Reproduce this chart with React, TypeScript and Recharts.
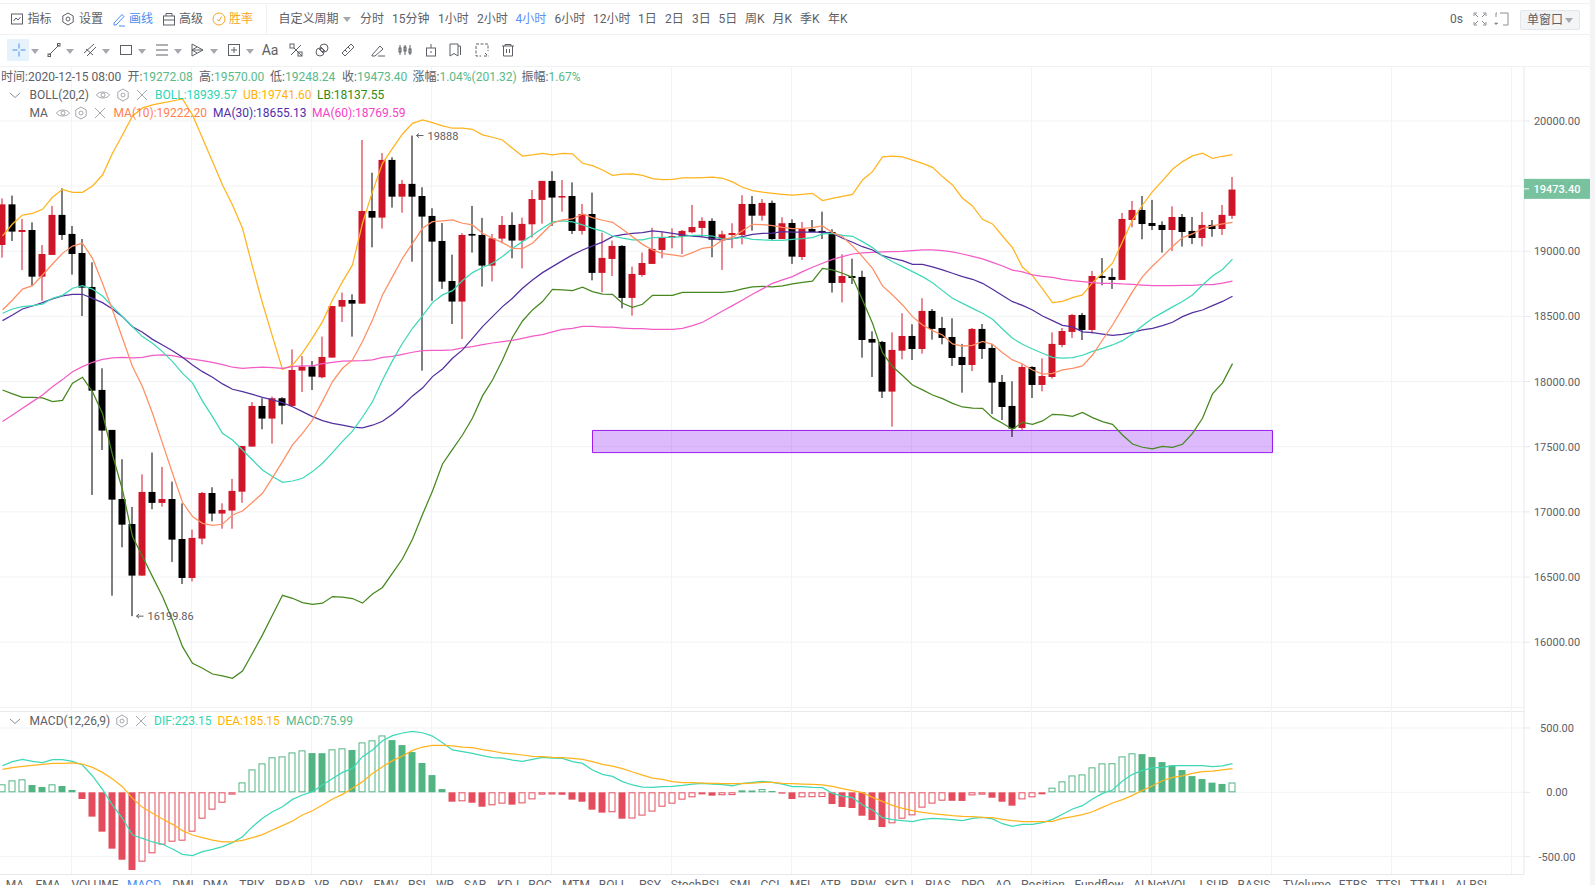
import React from 'react';
import { ComposedChart, Bar, Line, XAxis, YAxis, CartesianGrid, ReferenceArea, ReferenceDot } from 'recharts';

const open = [
  19048,19360,19148,19163,18805,18972,19279,19133,18987,18726,
  17936,17629,17099,16907,16511,17153,17069,17099,16792,16493,
  16795,17145,16987,17010,17155,17501,17813,17716,17872,17813,
  18084,18115,18033,18184,18575,18626,18598,19309,19258,19701,
  19419,19517,19424,19271,19079,18772,18614,19133,19125,18890,
  19097,19202,19082,19207,19394,19540,19412,19424,19156,19286,
  18834,18941,19041,18642,18818,18903,19010,19102,19112,19146,
  19179,19233,19084,19125,19125,19363,19273,19371,19094,19217,
  18956,19171,19156,19148,18757,18810,18803,18327,18304,17923,
  18237,18350,18250,18542,18411,18342,18189,18127,18404,18258,
  17997,17813,17644,18112,17974,18035,18281,18381,18511,18396,
  18810,18803,18780,19240,19317,19217,19202,19163,19263,19156,
  19102,19202,19171,19272,
];
const close = [
  19360,19151,19163,18805,18979,19279,19125,18979,18721,17930,
  17624,17094,16902,16511,17153,17069,17099,16787,16493,16800,
  17145,16987,17015,17161,17506,17813,17716,17872,17815,18089,
  18115,18038,18189,18580,18626,18598,19309,19258,19701,19419,
  19517,19419,19266,19074,18767,18614,19125,19120,18890,19100,
  19202,19082,19210,19401,19540,19412,19424,19156,19286,18834,
  18949,19041,18642,18826,18910,19018,19102,19117,19156,19186,
  19233,19089,19130,19140,19363,19273,19371,19094,19215,18959,
  19176,19148,19140,18757,18810,18795,18319,18299,17923,18243,
  18350,18250,18542,18404,18335,18181,18127,18404,18250,17992,
  17805,17639,18112,17974,18043,18289,18388,18511,18396,18810,
  18795,18780,19248,19317,19209,19194,19163,19263,19148,19102,
  19202,19171,19279,19473.4,
];
const high = [
  19406,19427,19248,19222,19048,19348,19483,19194,19094,18915,
  18102,17629,17404,17038,17288,17455,17345,17232,17066,16864,
  17153,17189,17066,17253,17506,17843,17872,17885,17880,18247,
  18196,18158,18345,18580,18683,18670,19854,19603,19754,19721,
  19547,19888,19491,19330,19217,18974,19138,19348,19256,19133,
  19271,19299,19258,19470,19540,19614,19547,19529,19363,19450,
  19143,19082,19046,18882,18990,19181,19151,19176,19164,19355,
  19261,19253,19158,19215,19430,19424,19401,19389,19261,19245,
  19225,19240,19304,19169,18977,18943,18851,18386,18312,18378,
  18524,18440,18639,18557,18496,18486,18289,18411,18442,18289,
  18051,18002,18133,18117,18178,18378,18411,18519,18527,18849,
  18948,18869,19294,19386,19424,19394,19230,19345,19286,19263,
  19301,19240,19355,19570,
];
const low = [
  18951,19079,18856,18736,18621,18972,19087,18821,18503,17130,
  17475,16357,16728,16199.86,16511,17020,17040,16616,16447,16467,
  16751,16928,16871,16871,17069,17501,17634,17524,17672,17813,
  17920,17935,18025,18184,18457,18345,18598,19030,19174,19335,
  19296,18920,18084,18619,18711,18442,18327,18990,18729,18769,
  19061,18946,18869,19105,19212,19194,19304,19133,19128,18777,
  18685,18810,18562,18506,18805,18903,18946,19023,18979,19138,
  19107,18954,18857,19023,19053,19158,19235,19087,19094,18903,
  18933,19148,19094,18683,18608,18749,18184,18035,17874,17654,
  18171,18166,18214,18322,18286,18120,17915,18081,18174,17751,
  17705,17575,17629,17874,17925,18023,18263,18335,18319,18370,
  18739,18711,18780,19184,19092,19163,18990,19002,19036,19056,
  19038,19112,19125,19248,
];

const ub = [
  19118,19209,19278,19291,19322,19414,19475,19452,19452,19501,
  19585,19752,19892,20038,20100,20123,20138,20153,20169,20046,
  19867,19688,19509,19355,19176,18882,18601,18345,18094,18127,
  18220,18335,18460,18626,18767,18895,19215,19458,19675,19790,
  19900,19982,20008,19987,19962,19944,19944,19936,19893,19875,
  19854,19790,19731,19739,19752,19739,19752,19747,19675,19657,
  19624,19583,19591,19593,19583,19557,19550,19552,19563,19563,
  19565,19568,19560,19532,19491,19465,19453,19445,19437,19430,
  19437,19445,19389,19406,19422,19437,19547,19611,19724,19731,
  19725,19700,19675,19644,19573,19509,19407,19348,19245,19210,
  19117,19028,18877,18813,18711,18606,18616,18644,18665,18759,
  18831,18908,19074,19240,19355,19458,19542,19629,19688,19732,
  19752,19713,19729,19742,
];
const boll = [
  18524,18557,18575,18583,18595,18639,18662,18716,18736,18710,
  18657,18575,18498,18421,18345,18294,18230,18153,18063,17990,
  17850,17731,17603,17552,17475,17398,17322,17271,17227,17237,
  17258,17309,17373,17455,17541,17619,17728,17845,18012,18161,
  18294,18409,18504,18606,18665,18698,18775,18836,18875,18908,
  18959,19023,19074,19125,19176,19225,19233,19225,19202,19176,
  19155,19117,19100,19087,19087,19105,19107,19107,19112,19122,
  19122,19117,19094,19097,19107,19092,19087,19084,19084,19092,
  19097,19105,19133,19138,19122,19115,19074,19028,18964,18920,
  18882,18844,18805,18759,18698,18639,18600,18562,18524,18478,
  18404,18332,18286,18250,18217,18186,18179,18184,18202,18232,
  18255,18281,18314,18365,18429,18486,18529,18573,18614,18665,
  18741,18810,18860,18940,
];
const lb = [
  17935,17905,17879,17879,17874,17846,17856,17987,18033,17922,
  17756,17437,17168,16810,16657,16503,16350,16171,15966,15838,
  15800,15756,15741,15723,15779,15915,16056,16209,16360,16337,
  16304,16291,16299,16350,16345,16335,16300,16370,16420,16530,
  16640,16790,16980,17160,17368,17480,17590,17720,17890,18012,
  18166,18340,18465,18550,18614,18708,18703,18698,18724,18690,
  18672,18670,18601,18570,18593,18662,18662,18662,18685,18685,
  18685,18685,18685,18693,18711,18726,18731,18726,18734,18749,
  18762,18770,18869,18857,18831,18800,18626,18447,18222,18115,
  18046,17974,17936,17897,17869,17833,17805,17797,17795,17723,
  17680,17634,17687,17672,17698,17749,17744,17733,17764,17723,
  17693,17672,17590,17521,17496,17483,17503,17496,17519,17603,
  17718,17905,17990,18138,
];
const ma10 = [
  18549,18626,18710,18736,18818,18902,18984,19040,19061,18946,
  18754,18549,18332,18115,17960,17757,17526,17296,17074,16964,
  16912,16897,16905,16976,17007,17074,17143,17263,17386,17514,
  17603,17705,17850,18000,18102,18166,18307,18473,18665,18805,
  18946,19061,19176,19227,19233,19240,19215,19202,19138,19100,
  19066,19023,19020,19061,19138,19215,19240,19248,19286,19258,
  19238,19222,19169,19112,19053,19010,18982,18972,18961,18990,
  19023,19033,19087,19107,19158,19207,19204,19197,19184,19174,
  19176,19181,19194,19143,19112,19041,18959,18869,18734,18665,
  18588,18498,18434,18391,18358,18289,18273,18278,18309,18286,
  18222,18166,18135,18089,18058,18063,18089,18102,18120,18204,
  18319,18434,18562,18690,18805,18887,18959,19036,19105,19133,
  19176,19195,19210,19222,
];
const ma30 = [
  18468,18511,18557,18580,18606,18634,18657,18670,18670,18639,
  18606,18557,18498,18421,18378,18324,18281,18237,18186,18127,
  18076,18033,17982,17941,17923,17902,17879,17859,17838,17807,
  17769,17731,17700,17680,17665,17650,17645,17665,17695,17750,
  17815,17890,17950,18038,18097,18179,18243,18332,18422,18498,
  18575,18639,18716,18780,18836,18882,18928,18972,19010,19041,
  19070,19112,19128,19138,19143,19156,19148,19138,19125,19117,
  19110,19097,19087,19097,19112,19130,19138,19140,19151,19146,
  19146,19146,19146,19138,19100,19069,19035,19010,18966,18946,
  18928,18900,18900,18880,18857,18831,18805,18785,18754,18708,
  18660,18613,18585,18549,18503,18468,18432,18419,18381,18376,
  18365,18355,18363,18378,18396,18409,18429,18455,18498,18529,
  18549,18583,18615,18655,
];
const ma60 = [
  17693,17744,17795,17846,17897,17961,18015,18076,18115,18148,
  18171,18181,18186,18181,18186,18201,18204,18199,18184,18173,
  18160,18148,18130,18110,18102,18107,18110,18107,18102,18115,
  18120,18120,18138,18148,18156,18158,18161,18166,18186,18194,
  18209,18225,18238,18240,18240,18243,18258,18268,18284,18296,
  18307,18317,18332,18348,18360,18381,18401,18409,18424,18424,
  18417,18417,18411,18406,18406,18401,18401,18401,18409,18429,
  18455,18498,18542,18583,18626,18670,18711,18754,18780,18805,
  18844,18877,18908,18938,18959,18979,18987,18992,18995,18997,
  19000,19005,19010,19010,19005,18995,18979,18961,18941,18915,
  18887,18856,18841,18818,18808,18800,18785,18775,18767,18759,
  18754,18754,18749,18746,18741,18736,18736,18736,18739,18739,
  18744,18744,18755,18770,
];

const macd = [
  62,93,101,57,41,62,49,18,-52,-189,
  -306,-438,-524,-604,-539,-474,-407,-384,-376,-306,
  -205,-135,-81,-18,77,178,225,272,279,310,
  326,305,304,334,342,329,388,404,442,406,
  367,313,228,134,25,-73,-70,-81,-112,-101,
  -88,-96,-86,-55,-18,-17,-19,-57,-73,-135,
  -158,-155,-205,-204,-181,-150,-112,-88,-57,-39,
  -16,-26,-23,-22,15,14,25,10,-10,-52,
  -39,-38,-37,-91,-114,-122,-182,-215,-270,-241,
  -205,-179,-119,-88,-65,-66,-67,-24,-18,-42,
  -73,-104,-55,-39,-10,36,85,131,139,194,
  225,226,279,303,297,274,235,209,173,126,
  103,75,65,76,
];
const dif = [
  207,238,256,241,230,254,254,241,212,127,
  23,-99,-202,-332,-358,-386,-404,-441,-482,-492,
  -461,-443,-422,-391,-345,-267,-202,-151,-112,-55,
  -21,5,57,108,155,186,277,329,401,440,
  461,474,463,437,386,329,316,303,285,269,
  266,251,241,256,272,266,264,238,225,173,
  140,124,83,57,41,39,44,46,54,64,
  70,64,59,51,70,77,85,77,64,44,
  44,39,36,-8,-29,-42,-99,-138,-197,-213,
  -220,-228,-210,-202,-207,-213,-220,-202,-195,-207,
  -244,-264,-249,-249,-236,-210,-171,-130,-104,-52,
  -8,18,88,140,171,189,194,207,207,207,
  207,199,205,223,
];
const dea = [
  178,191,202,210,217,225,225,228,220,194,
  155,103,44,-47,-117,-163,-207,-249,-298,-332,
  -353,-371,-386,-386,-373,-353,-329,-293,-259,-223,
  -176,-143,-99,-52,-16,31,83,147,199,246,
  282,326,352,365,365,360,352,347,331,321,
  305,298,290,279,277,272,269,264,256,238,
  217,204,184,158,134,111,101,83,75,75,
  72,70,67,67,67,72,77,77,70,67,
  64,62,57,46,28,13,-3,-39,-70,-101,
  -125,-143,-156,-166,-174,-182,-187,-189,-195,-197,
  -210,-220,-228,-228,-228,-226,-202,-189,-174,-151,
  -117,-83,-57,-24,15,51,90,116,127,147,
  160,165,175,185,
];

const priceTicks = [20000, 19000, 18500, 18000, 17500, 17000, 16500, 16000, 19500, 19473.4];
const priceGrid = [20000, 19500, 19000, 18500, 18000, 17500, 17000, 16500, 16000, 15500];
const macdTicks = [500, 0, -500];
const timeGrid = [6.9, 18.9, 30.9, 42.9, 54.9, 66.9, 78.9, 90.9, 102.9, 114.9, 126.9, 138.9, 150.9];
const lastPrice = 19473.4;

const periods = [
  ['分时', 360], ['15分钟', 392], ['1小时', 438], ['2小时', 477], ['4小时', 515.5], ['6小时', 554.5], ['12小时', 593],
  ['1日', 638], ['2日', 665], ['3日', 692], ['5日', 718.5], ['周K', 745], ['月K', 772.5], ['季K', 800], ['年K', 828],
];
const indicators = [
  ['MA', 15], ['EMA', 48], ['VOLUME', 95], ['MACD', 144], ['DMI', 183], ['DMA', 216], ['TRIX', 252], ['BRAR', 290],
  ['VR', 322], ['OBV', 351], ['EMV', 386], ['RSI', 417], ['WR', 445], ['SAR', 475], ['KDJ', 508], ['ROC', 540],
  ['MTM', 576], ['BOLL', 613], ['PSY', 650], ['StochRSI', 695], ['SMI', 740], ['CCI', 770], ['MFI', 800], ['ATR', 830],
  ['BBW', 863], ['SKDJ', 899], ['BIAS', 938], ['DPO', 973], ['AO', 1003], ['Position', 1043], ['Fundflow', 1099],
  ['ALNetVOL', 1161], ['LSUR', 1214], ['BASIS', 1254], ['TVolume', 1307], ['FTBS', 1353], ['TTSL', 1390], ['TTMLL', 1429], ['ALRSI', 1471],
];

const priceData = open.map((o, i) => ({
  i, open: o, close: close[i], range: [low[i], high[i]],
  ub: ub[i], boll: boll[i], lb: lb[i], ma10: ma10[i], ma30: ma30[i], ma60: ma60[i],
}));
const macdData = macd.map((m, i) => ({
  i, macd: m, dif: dif[i], dea: dea[i], hollow: i === 0 || m > macd[i - 1],
}));

const FONT = "Roboto, 'Noto Sans CJK SC', sans-serif";
const GRAY = '#5d6066';
const GRID = '#f2f3f6';
const AXIS = '#e6e8ec';
const UP = '#cf1628';
const DOWN = '#000000';
const HIST_UP = '#53b483';
const HIST_DOWN = '#e44c5d';
const C_BOLL = '#3ed8b6';
const C_UB = '#ffb41f';
const C_LB = '#46881f';
const C_MA10 = '#ff8e63';
const C_MA30 = '#53309f';
const C_MA60 = '#f25cc6';
const LINE_W = 1.25;

const xDomain = [-0.25, 152.15];

const Candle = (props: any) => {
  const { x, y, width, height, payload } = props;
  const cx = x + width / 2;
  const k = height / (payload.range[1] - payload.range[0]);
  const top = y + (payload.range[1] - Math.max(payload.open, payload.close)) * k;
  const bot = y + (payload.range[1] - Math.min(payload.open, payload.close)) * k;
  const color = payload.close >= payload.open ? UP : DOWN;
  return (
    <g>
      <rect x={cx - 0.5} y={y} width={1} height={height} fill={color} />
      <rect x={cx - 3.5} y={top} width={7} height={Math.max(bot - top, 1)} fill={color} />
    </g>
  );
};

const HistBar = (props: any) => {
  const { x, y, width, height, payload } = props;
  const cx = x + width / 2;
  const top = Math.min(y, y + height);
  const h = Math.abs(height);
  const color = payload.macd >= 0 ? HIST_UP : HIST_DOWN;
  if (payload.hollow) {
    return <rect x={cx - 3} y={top + 0.5} width={6} height={Math.max(h - 1, 1)} fill="#fff" stroke={color} strokeWidth={1} />;
  }
  return <rect x={cx - 3.5} y={top} width={7} height={h} fill={color} />;
};

const AxisTick = (props: any) => {
  const { x, y, payload } = props;
  if (payload.value === lastPrice) {
    return (
      <g>
        <rect x={x - 10} y={y - 10.7} width={66} height={20} fill="#72c09b" fillOpacity={0.96} />
        <line x1={x - 10} x2={x - 5} y1={y - 0.7} y2={y - 0.7} stroke="#fff" />
        <text x={x + 23} y={y + 3.3} textAnchor="middle" fontSize={11} fontFamily={FONT} fill="#fff" fontWeight={500}>{payload.value.toFixed(2)}</text>
      </g>
    );
  }
  return <text x={x + 23} y={y + 4} textAnchor="middle" fontSize={11} fontFamily={FONT} fill={GRAY}>{payload.value.toFixed(2)}</text>;
};

const ExtremeMark = (label: string) => (props: any) => {
  const { cx, cy } = props;
  return (
    <g>
      <path d={`M${cx + 4} ${cy}H${cx + 11}M${cx + 4} ${cy}l2.5 -2M${cx + 4} ${cy}l2.5 2`} stroke={GRAY} fill="none" />
      <text x={cx + 15} y={cy + 4} fontSize={11} fontFamily={FONT} fill={GRAY}>{label}</text>
    </g>
  );
};

const Txt = ({ x, y, color = GRAY, size = 12, center, children }: any) => (
  <span style={{
    position: 'absolute', left: x, top: y - 9, height: 18, lineHeight: '18px', fontSize: size, color,
    fontFamily: FONT, whiteSpace: 'nowrap', transform: center ? 'translateX(-50%)' : undefined,
  }}>{children}</span>
);

const Ico = ({ x, y, color = GRAY, size = 16, children }: any) => (
  <svg width={size} height={size} viewBox="0 0 16 16" fill="none" stroke={color} strokeWidth={1}
    style={{ position: 'absolute', left: x - size / 2, top: y - size / 2 }}>{children}</svg>
);

const Caret = ({ x, y, color = '#a5a8ae' }: any) => (
  <svg width={8} height={5} style={{ position: 'absolute', left: x - 4, top: y - 2 }}><path d="M0 0H8L4 5Z" fill={color} /></svg>
);

const Eye = ({ x, y }: any) => (
  <Ico x={x} y={y} color="#a5a8ae"><path d="M1.5 8C4 4 12 4 14.5 8C12 12 4 12 1.5 8Z" /><circle cx="8" cy="8" r="2" /></Ico>
);
const Gear = ({ x, y, color = '#a5a8ae' }: any) => (
  <Ico x={x} y={y} color={color}><path d="M8 2L13.2 5V11L8 14L2.8 11V5Z" /><circle cx="8" cy="8" r="2" /></Ico>
);
const Cross = ({ x, y }: any) => (
  <Ico x={x} y={y} color="#a5a8ae"><path d="M3 3L13 13M13 3L3 13" /></Ico>
);
const Chevron = ({ x, y }: any) => (
  <Ico x={x} y={y} color="#8b8e94"><path d="M3 6L8 10.5L13 6" /></Ico>
);

const Toolbar = () => (
  <>
    <div style={{ position: 'absolute', left: 0, top: 3, width: 1590, height: 1, background: '#f0f1f3' }} />
    <div style={{ position: 'absolute', left: 0, top: 34, width: 1590, height: 1, background: '#f0f1f3' }} />
    <div style={{ position: 'absolute', left: 0, top: 66, width: 1590, height: 1, background: '#f0f1f3' }} />
    <div style={{ position: 'absolute', left: 266, top: 4, width: 1, height: 30, background: '#f0f1f3' }} />

    <Ico x={17} y={19}><rect x="2.5" y="3" width="11" height="10" /><path d="M4.5 10L7 7L9 9L11.5 6" /></Ico>
    <Txt x={27.5} y={19}>指标</Txt>
    <Gear x={68} y={19} color={GRAY} />
    <Txt x={79} y={19}>设置</Txt>
    <Ico x={119} y={19} color="#4a8cf0"><path d="M3 12L11 3.5L13 5.5L5 14H3ZM8 15H14" /></Ico>
    <Txt x={129} y={19} color="#4a8cf0">画线</Txt>
    <Ico x={169} y={19}><rect x="2.5" y="5" width="11" height="9" /><path d="M5 5V2.5H11V5M2.5 9H13.5" /></Ico>
    <Txt x={179} y={19}>高级</Txt>
    <Ico x={219} y={19} color="#f5a623"><circle cx="8" cy="8" r="6" /><path d="M6 8.5L8 10L10.5 5.5" /></Ico>
    <Txt x={229} y={19} color="#f5a623">胜率</Txt>

    <Txt x={278.5} y={19}>自定义周期</Txt>
    <Caret x={347} y={19} />
    {periods.map(([name, x]: any) => (
      <Txt key={name} x={x} y={19} color={name === '4小时' ? '#5b8ff9' : GRAY}>{name}</Txt>
    ))}

    <Txt x={1450} y={19}>0s</Txt>
    <Ico x={1480} y={19} color="#8b8e94"><path d="M2 5V2H5M11 2H14V5M14 11V14H11M5 14H2V11M3 3L6 6M13 3L10 6M13 13L10 10M3 13L6 10" /></Ico>
    <Ico x={1502} y={19} color="#8b8e94"><path d="M6 2H14V14H9M2 11V14M0.5 12.5H4M2 6V2H3" /></Ico>
    <div style={{ position: 'absolute', left: 1520, top: 10, width: 58, height: 18, background: '#f3f4f6', border: '1px solid #e4e6ea', borderRadius: 2 }} />
    <Txt x={1527} y={20}>单窗口</Txt>
    <Caret x={1569} y={20} />

    <div style={{ position: 'absolute', left: 7, top: 39, width: 22, height: 22, background: '#e6f3fd' }} />
    <Ico x={18.5} y={50} color="#4a8cf0"><path d="M8 1.5V6.5M8 9.5V14.5M1.5 8H6.5M9.5 8H14.5" /></Ico>
    <Caret x={34.5} y={51} />
    <Ico x={54} y={50}><path d="M3 13L13 3" /><rect x="11.5" y="1.5" width="2.5" height="2.5" /><rect x="2" y="12" width="2.5" height="2.5" /></Ico>
    <Caret x={70} y={51} />
    <Ico x={90} y={50}><path d="M2 11L12 2M5 14L14 5M4 7L11 13" /></Ico>
    <Caret x={106} y={51} />
    <Ico x={126} y={50}><rect x="2.5" y="3.5" width="11" height="9" /></Ico>
    <Caret x={142} y={51} />
    <Ico x={162} y={50}><path d="M2 3H14M2 8H14M2 13H14" /></Ico>
    <Caret x={178} y={51} />
    <Ico x={197} y={50}><path d="M3 2V14L14 8ZM3 8L8 5M3 8H14M3 8L8 11" /></Ico>
    <Caret x={213.5} y={51} />
    <Ico x={233.5} y={50}><rect x="2.5" y="2.5" width="11" height="11" /><path d="M5 8H11M8 5V11" /></Ico>
    <Caret x={250} y={51} />
    <Txt x={270} y={50} size={14} center>Aa</Txt>
    <Ico x={296} y={50}><rect x="2" y="2" width="4" height="4" /><path d="M6 6L14 14M3 13L13 3" /><rect x="10" y="10" width="4" height="4" /></Ico>
    <Ico x={322} y={50}><circle cx="6" cy="10" r="4" /><circle cx="10" cy="6" r="4" /><path d="M5 7L9 11M7 5L11 9" /></Ico>
    <Ico x={348} y={50}><path d="M2 11L11 2L14 5L5 14ZM5 8L7 10M8 5L10 7" /></Ico>
    <Ico x={378} y={50}><path d="M2 13L10 4L13 7L5 14H2ZM8 14H15" /></Ico>
    <Ico x={404.5} y={50}><path d="M3 3V13M8 3V13M13 3V13" /><rect x="2" y="6" width="2" height="4" /><rect x="7" y="5" width="2" height="4" /><rect x="12" y="7" width="2" height="4" /></Ico>
    <Ico x={430.5} y={50}><rect x="3.5" y="6" width="9" height="8" /><path d="M8 2V6M8 9V11" /></Ico>
    <Ico x={455} y={50}><path d="M3 2H11V14L7 11.5L3 14ZM11 4H13.5V13" /></Ico>
    <Ico x={482} y={50}><path d="M2 4V14H7M2 2H14V9M11 11L14 14M10 14H15" strokeDasharray="3 1.5" /></Ico>
    <Ico x={508} y={50}><path d="M2 4H14M5 4V2.5H11V4M3.5 4V14H12.5V4M6.5 7V11M9.5 7V11" /></Ico>
  </>
);

const Legends = () => (
  <>
    <Txt x={1} y={77}>时间:2020-12-15 08:00</Txt>
    <Txt x={127.5} y={77}>开:<span style={{ color: '#58b98a' }}>19272.08</span></Txt>
    <Txt x={199} y={77}>高:<span style={{ color: '#58b98a' }}>19570.00</span></Txt>
    <Txt x={270} y={77}>低:<span style={{ color: '#58b98a' }}>19248.24</span></Txt>
    <Txt x={342} y={77}>收:<span style={{ color: '#58b98a' }}>19473.40</span></Txt>
    <Txt x={412.5} y={77}>涨幅:<span style={{ color: '#58b98a' }}>1.04%(201.32)</span></Txt>
    <Txt x={521.5} y={77}>振幅:<span style={{ color: '#58b98a' }}>1.67%</span></Txt>

    <Chevron x={15} y={95} />
    <Txt x={29.5} y={95}>BOLL(20,2)</Txt>
    <Eye x={103} y={95} /><Gear x={122.5} y={95} /><Cross x={141.5} y={95} />
    <Txt x={155} y={95} color="#2fd5b3">BOLL:18939.57</Txt>
    <Txt x={243} y={95} color="#ffb300">UB:19741.60</Txt>
    <Txt x={317} y={95} color="#2e8b13">LB:18137.55</Txt>

    <Txt x={29.5} y={113}>MA</Txt>
    <Eye x={62.5} y={113} /><Gear x={81} y={113} /><Cross x={100} y={113} />
    <Txt x={113.5} y={113} color="#ff7f50">MA(10):19222.20</Txt>
    <Txt x={213} y={113} color="#512da8">MA(30):18655.13</Txt>
    <Txt x={312} y={113} color="#f542c8">MA(60):18769.59</Txt>

    <Chevron x={15} y={721} />
    <Txt x={29.5} y={721}>MACD(12,26,9)</Txt>
    <Gear x={121.5} y={721} /><Cross x={141} y={721} />
    <Txt x={154} y={721} color="#2fd5b3">DIF:223.15</Txt>
    <Txt x={217.5} y={721} color="#ffb300">DEA:185.15</Txt>
    <Txt x={286} y={721} color="#58b98a">MACD:75.99</Txt>
  </>
);

export default function App() {
  return (
    <div style={{ position: 'fixed', left: 0, top: 0, width: 1595, height: 885, overflow: 'hidden', background: '#fff' }}>
      <div style={{ position: 'absolute', left: 0, top: 67 }}>
        <ComposedChart width={1590} height={644} data={priceData} margin={{ top: 0, right: 0, bottom: 0, left: 0 }}>
          <CartesianGrid stroke={GRID} horizontalValues={priceGrid} verticalValues={timeGrid} />
          <XAxis dataKey="i" type="number" domain={xDomain} allowDataOverflow hide />
          <YAxis
            orientation="right" width={66} domain={[15472, 20414]} allowDataOverflow ticks={priceTicks} interval={0}
            stroke={AXIS} tickLine={{ stroke: AXIS }} tickSize={6} tickMargin={4} tick={AxisTick}
          />
          <Bar dataKey="range" barSize={7} shape={Candle} isAnimationActive={false} />
          <Line dataKey="ub" type="linear" stroke={C_UB} strokeWidth={LINE_W} dot={false} activeDot={false} isAnimationActive={false} />
          <Line dataKey="lb" type="linear" stroke={C_LB} strokeWidth={LINE_W} dot={false} activeDot={false} isAnimationActive={false} />
          <Line dataKey="ma60" type="linear" stroke={C_MA60} strokeWidth={LINE_W} dot={false} activeDot={false} isAnimationActive={false} />
          <Line dataKey="ma30" type="linear" stroke={C_MA30} strokeWidth={LINE_W} dot={false} activeDot={false} isAnimationActive={false} />
          <Line dataKey="boll" type="linear" stroke={C_BOLL} strokeWidth={LINE_W} dot={false} activeDot={false} isAnimationActive={false} />
          <Line dataKey="ma10" type="linear" stroke={C_MA10} strokeWidth={LINE_W} dot={false} activeDot={false} isAnimationActive={false} />
          <ReferenceArea x1={59} x2={127} y1={17455} y2={17625} fill="#8a1cf5" fillOpacity={0.3} stroke="#9b1cf0" strokeWidth={1} />
          <ReferenceDot x={41} y={19888} ifOverflow="visible" shape={ExtremeMark('19888')} />
          <ReferenceDot x={13} y={16199.86} ifOverflow="visible" shape={ExtremeMark('16199.86')} />
        </ComposedChart>
      </div>

      <div style={{ position: 'absolute', left: 0, top: 711, width: 1524, height: 1, background: AXIS }} />

      <div style={{ position: 'absolute', left: 0, top: 711 }}>
        <ComposedChart width={1590} height={163} data={macdData} margin={{ top: 0, right: 0, bottom: 0, left: 0 }}>
          <CartesianGrid stroke={GRID} horizontalValues={macdTicks} verticalValues={timeGrid} />
          <XAxis dataKey="i" type="number" domain={xDomain} allowDataOverflow hide />
          <YAxis
            orientation="right" width={66} domain={[-635, 632]} allowDataOverflow ticks={macdTicks} interval={0}
            stroke={AXIS} tickLine={{ stroke: AXIS }} tickSize={6} tickMargin={4} tick={AxisTick}
          />
          <Bar dataKey="macd" barSize={7} shape={HistBar} isAnimationActive={false} />
          <Line dataKey="dif" type="linear" stroke={C_BOLL} strokeWidth={LINE_W} dot={false} activeDot={false} isAnimationActive={false} />
          <Line dataKey="dea" type="linear" stroke={C_UB} strokeWidth={LINE_W} dot={false} activeDot={false} isAnimationActive={false} />
        </ComposedChart>
      </div>

      <div style={{ position: 'absolute', left: 0, top: 874, width: 1524, height: 1, background: AXIS }} />
      <div style={{ position: 'absolute', left: 1590, top: 0, width: 5, height: 885, background: '#f3f4f6' }} />
      {indicators.map(([name, x]: any) => (
        <Txt key={name} x={x} y={885} center color={name === 'MACD' ? '#4a8cf0' : GRAY}>{name}</Txt>
      ))}
      <Toolbar />
      <Legends />
    </div>
  );
}
